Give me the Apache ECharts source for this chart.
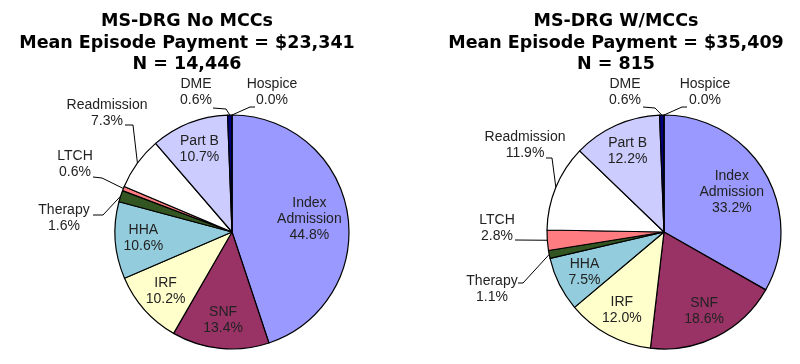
<!DOCTYPE html>
<html><head><meta charset="utf-8">
<script src="https://cdn.jsdelivr.net/npm/echarts@6/dist/echarts.min.js"></script>
<style>html,body{margin:0;padding:0;background:#fff}#c{width:800px;height:364px}</style>
</head><body><div id="c"></div>
<script>
// ---- data ----
const categories = ['Index Admission','SNF','IRF','HHA','Therapy','LTCH','Readmission','Part B','DME','Hospice'];
const noMccValues = [44.8,13.4,10.2,10.6,1.6,0.6,7.3,10.7,0.6,0.0];
const wMccValues  = [33.2,18.6,12.0,7.5,1.1,2.8,11.9,12.2,0.6,0.0];
const chartTitles = [
  'MS-DRG No MCCs\nMean Episode Payment = $23,341\nN = 14,446',
  'MS-DRG W/MCCs\nMean Episode Payment = $35,409\nN = 815'
];
// ---- style ----
const colors = ['#9999FF','#993366','#FFFFCC','#93CDDD','#335522','#FF7C80','#FFFFFF','#CCCCFF','#000080','#9999FF'];
const R = 117;
const centers = [[232,232],[664,232]];
const titleX = [187, 616];
const insideNames = ['Index Admission','SNF','IRF','HHA','Part B'];
const insideFactor = {'Index Admission':0.67};
// outside label placement relative to pie center: [labelCenter, anchor, elbow]
const outsideSpec = [
  {
    'DME':        [[-36,-140],[-19,-124],[-6,-123]],
    'Hospice':    [[40,-140],[23,-125],[18,-125]],
    'Readmission':[[-125,-119],[-107,-107],[-99,-107]],
    'LTCH':       [[-157,-68],[-139,-55],[-130,-54]],
    'Therapy':    [[-168,-14],[-139,-17],[-129,-17]]
  },
  {
    'DME':        [[-39,-140],[-21,-125],[-9,-124]],
    'Hospice':    [[41,-140],[23,-125],[18,-125]],
    'Readmission':[[-139,-87],[-118,-74],[-112,-74]],
    'LTCH':       [[-167,-4],[-149,8],[-149,8]],
    'Therapy':    [[-172,57],[-146,51],[-141,51]]
  }
];
const seriesValues = [noMccValues, wMccValues];

function midAngle(vals, i){
  const total = vals.reduce((a,b)=>a+b,0);
  let cum = 0; for (let k=0;k<i;k++) cum += vals[k];
  return (cum + vals[i]/2) / total * Math.PI * 2;
}

function makeSeries(si){
  const vals = seriesValues[si];
  const c = centers[si];
  return {
    type:'pie',
    center: c,
    radius: R,
    startAngle: 90,
    clockwise: true,
    avoidLabelOverlap: false,
    animation: false,
    silent: true,
    itemStyle:{borderColor:'#000', borderWidth:1.2},
    labelLine:{show:true, lineStyle:{color:'#000', width:1}},
    label:{
      fontFamily:'Liberation Sans, Arial, sans-serif', fontSize:14, lineHeight:16, color:'#222',
      formatter: p => (p.name==='Index Admission' ? 'Index\nAdmission' : p.name) + '\n' + p.value.toFixed(1) + '%'
    },
    data: categories.map((n,i)=>({
      name:n, value:vals[i],
      itemStyle:{color:colors[i]},
      label:{position: insideNames.includes(n) ? 'inside' : 'outside'},
      labelLine:{show: !insideNames.includes(n)}
    })),
    labelLayout: function(p){
      const i = p.dataIndex, n = categories[i];
      const a = midAngle(vals, i);
      if (insideNames.includes(n)){
        const f = insideFactor[n] || 0.76;
        return {x: c[0] + R*f*Math.sin(a), y: c[1] - R*f*Math.cos(a), align:'center', verticalAlign:'middle'};
      }
      const s = outsideSpec[si][n];
      const edge = [c[0] + R*Math.sin(a), c[1] - R*Math.cos(a)];
      return {
        x: c[0]+s[0][0], y: c[1]+s[0][1], align:'center', verticalAlign:'middle',
        labelLinePoints: [edge, [c[0]+s[2][0], c[1]+s[2][1]], [c[0]+s[1][0], c[1]+s[1][1]]]
      };
    }
  };
}

const chart = echarts.init(document.getElementById('c'), null, {renderer:'canvas'});
chart.setOption({
  backgroundColor:'#fff',
  animation:false,
  title: chartTitles.map((t,i)=>({
    text:t, left:titleX[i], top:11, padding:0, textAlign:'center',
    textStyle:{fontFamily:'DejaVu Sans', fontWeight:'bold', fontSize:17.5, lineHeight:21.5, color:'#000'}
  })),
  series:[makeSeries(0), makeSeries(1)]
});
</script></body></html>
